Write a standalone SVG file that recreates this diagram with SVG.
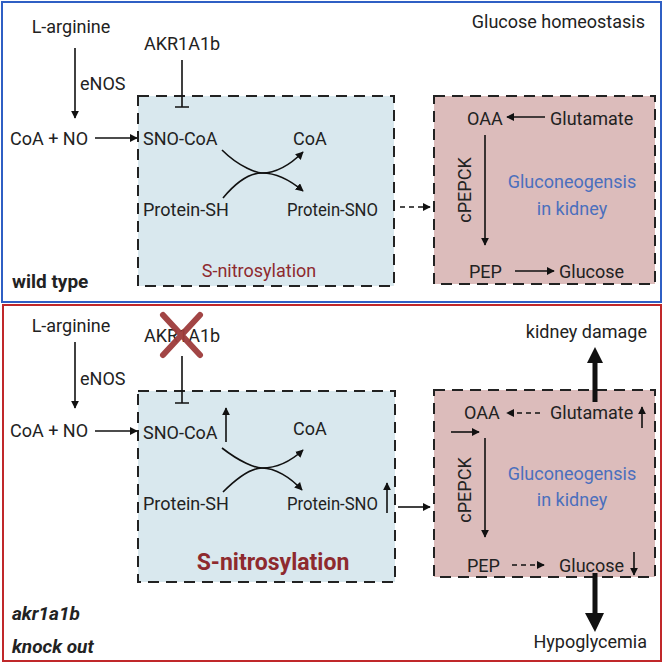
<svg xmlns="http://www.w3.org/2000/svg" width="664" height="664" viewBox="0 0 664 664">
<defs>
<style>
text{font-family:Roboto,"Liberation Sans",sans-serif;font-size:18px;fill:#222}
.ln{stroke:#111;stroke-width:1.6;fill:none}
.dash{stroke:#111;stroke-width:1.6;fill:none;stroke-dasharray:5 4}
.box{stroke:#222;stroke-width:2;stroke-dasharray:11 7}
.blue{fill:#d9e8ee}
.pink{fill:#dcbcbb}
.snt{fill:#8e2a2e}
.big{font-weight:bold;font-size:23px}
.glu{fill:#4b6fbd}
.lbl{font-weight:bold;font-size:19px}
.bi{font-weight:bold;font-style:italic;font-size:19px}
</style>
<marker id="ah" viewBox="0 0 10 10" refX="9" refY="5" markerWidth="8" markerHeight="8" orient="auto" markerUnits="userSpaceOnUse">
<path d="M0,0 L10,5 L0,10 z" fill="#111"/>
</marker>
</defs>
<rect x="0" y="0" width="664" height="664" fill="#fff"/>
<rect x="2" y="2" width="659" height="300" fill="none" stroke="#2f5fc4" stroke-width="2"/>
<rect x="3" y="305" width="658" height="356" fill="none" stroke="#c0282a" stroke-width="2"/>

<!-- top panel -->
<g id="top-snitrosylation-box"><rect class="box blue" x="138" y="96" width="256" height="190"/><text x="259" y="277" text-anchor="middle" class="snt">S-nitrosylation</text></g>
<g id="top-gluconeogenesis-box"><rect class="box pink" x="434" y="96" width="221" height="188"/>
<text x="572" y="188" text-anchor="middle" class="glu">Gluconeogensis</text><text x="572" y="215" text-anchor="middle" class="glu">in kidney</text></g>
<g id="top-title"><text x="645" y="28" text-anchor="end">Glucose homeostasis</text></g>
<g id="top-larginine"><text x="71" y="33" text-anchor="middle">L-arginine</text></g>
<g id="top-enos"><text x="80" y="90">eNOS</text></g>
<g id="top-coano"><text x="10" y="145">CoA + NO</text></g>
<g id="top-akr"><text x="182" y="50" text-anchor="middle">AKR1A1b</text></g>
<g id="top-snocoa"><text x="143" y="145">SNO-CoA</text></g>
<g id="top-coa"><text x="293" y="145">CoA</text></g>
<g id="top-proteinsh"><text x="143" y="216">Protein-SH</text></g>
<g id="top-proteinsno"><text x="287" y="216" textLength="91" lengthAdjust="spacingAndGlyphs">Protein-SNO</text></g>
<g id="top-oaa"><text x="467" y="125">OAA</text></g>
<g id="top-glutamate"><text x="550" y="125">Glutamate</text></g>
<g id="top-cpepck"><text transform="translate(471,190) rotate(-90)" text-anchor="middle">cPEPCK</text></g>
<g id="top-pep"><text x="469" y="278">PEP</text></g>
<g id="top-glucose"><text x="559" y="278">Glucose</text></g>
<g id="top-label"><text x="12" y="288" class="lbl">wild type</text></g>

<!-- bottom panel -->
<g id="bot-snitrosylation-box"><rect class="box blue" x="138" y="391" width="257" height="191"/><text x="273" y="570" text-anchor="middle" class="snt big">S-nitrosylation</text></g>
<g id="bot-gluconeogenesis-box"><rect class="box pink" x="434" y="390" width="221" height="187"/>
<text x="572" y="480" text-anchor="middle" class="glu">Gluconeogensis</text><text x="572" y="506" text-anchor="middle" class="glu">in kidney</text></g>
<g id="bot-larginine"><text x="71" y="332" text-anchor="middle">L-arginine</text></g>
<g id="bot-enos"><text x="80" y="385">eNOS</text></g>
<g id="bot-coano"><text x="10" y="437">CoA + NO</text></g>
<g id="bot-akr"><text x="182" y="342" text-anchor="middle">AKR1A1b</text>
<path d="M163,315 L200,355 M200,315 L163,355" stroke="#9e3c3c" stroke-width="6" stroke-linecap="round" opacity="0.95"/></g>
<g id="bot-snocoa"><text x="143" y="439">SNO-CoA</text></g>
<g id="bot-coa"><text x="293" y="435">CoA</text></g>
<g id="bot-proteinsh"><text x="143" y="510">Protein-SH</text></g>
<g id="bot-proteinsno"><text x="287" y="510" textLength="91" lengthAdjust="spacingAndGlyphs">Protein-SNO</text></g>
<g id="bot-kidneydamage"><text x="647" y="338" text-anchor="end">kidney damage</text></g>
<g id="bot-oaa"><text x="464" y="419">OAA</text></g>
<g id="bot-glutamate"><text x="550" y="419">Glutamate</text></g>
<g id="bot-cpepck"><text transform="translate(471,490) rotate(-90)" text-anchor="middle">cPEPCK</text></g>
<g id="bot-pep"><text x="467" y="572">PEP</text></g>
<g id="bot-glucose"><text x="559" y="572">Glucose</text></g>
<g id="bot-hypoglycemia"><text x="647" y="648" text-anchor="end">Hypoglycemia</text></g>
<g id="bot-label"><text x="12" y="620" class="bi">akr1a1b</text><text x="12" y="653" class="bi">knock out</text></g>

<g id="connectors">
<!-- top -->
<line class="ln" x1="75" y1="48" x2="75" y2="118" marker-end="url(#ah)"/>
<line class="ln" x1="95" y1="138" x2="137" y2="138" marker-end="url(#ah)"/>
<path class="ln" d="M182,60 V107 M175,107 H189"/>
<path class="ln" d="M222,150 C240,168 258,173 262,173 C275,173 290,165 303,152" marker-end="url(#ah)"/>
<path class="ln" d="M223,198 C238,180 252,173 262,173 C275,173 290,180 303,191" marker-end="url(#ah)"/>
<line class="dash" x1="400" y1="207" x2="430" y2="207" marker-end="url(#ah)"/>
<line class="ln" x1="545" y1="117" x2="507" y2="117" marker-end="url(#ah)"/>
<line class="ln" x1="485" y1="135" x2="485" y2="245" marker-end="url(#ah)"/>
<line class="ln" x1="515" y1="271" x2="554" y2="271" marker-end="url(#ah)"/>
<!-- bottom -->
<line class="ln" x1="75" y1="342" x2="75" y2="408" marker-end="url(#ah)"/>
<line class="ln" x1="95" y1="431" x2="137" y2="431" marker-end="url(#ah)"/>
<path class="ln" d="M182,356 V403 M175,403 H189"/>
<line class="ln" x1="226" y1="442" x2="226" y2="408" marker-end="url(#ah)"/>
<path class="ln" d="M222,448 C240,462 255,468 262,468 C275,468 290,462 303,450" marker-end="url(#ah)"/>
<path class="ln" d="M223,492 C238,477 252,468 262,468 C275,468 290,477 302,490" marker-end="url(#ah)"/>
<line class="ln" x1="387" y1="513" x2="387" y2="483" marker-end="url(#ah)"/>
<line class="ln" x1="398" y1="507" x2="430" y2="507" marker-end="url(#ah)"/>
<line class="dash" x1="540" y1="413" x2="507" y2="413" marker-end="url(#ah)"/>
<line class="ln" x1="642" y1="428" x2="642" y2="407" marker-end="url(#ah)"/>
<line class="ln" x1="451" y1="432" x2="479" y2="432" marker-end="url(#ah)"/>
<line class="ln" x1="485" y1="438" x2="485" y2="537" marker-end="url(#ah)"/>
<line class="dash" x1="512" y1="565" x2="544" y2="565" marker-end="url(#ah)"/>
<line class="ln" x1="634" y1="552" x2="634" y2="575" marker-end="url(#ah)"/>
<path d="M592.5,402 V363 H587 L595,347 L603,363 H597.5 V402 Z" fill="#111"/>
<path d="M592.5,573 V613 H585 L595,632 L604,613 H597.5 V573 Z" fill="#111"/>
</g>
</svg>
